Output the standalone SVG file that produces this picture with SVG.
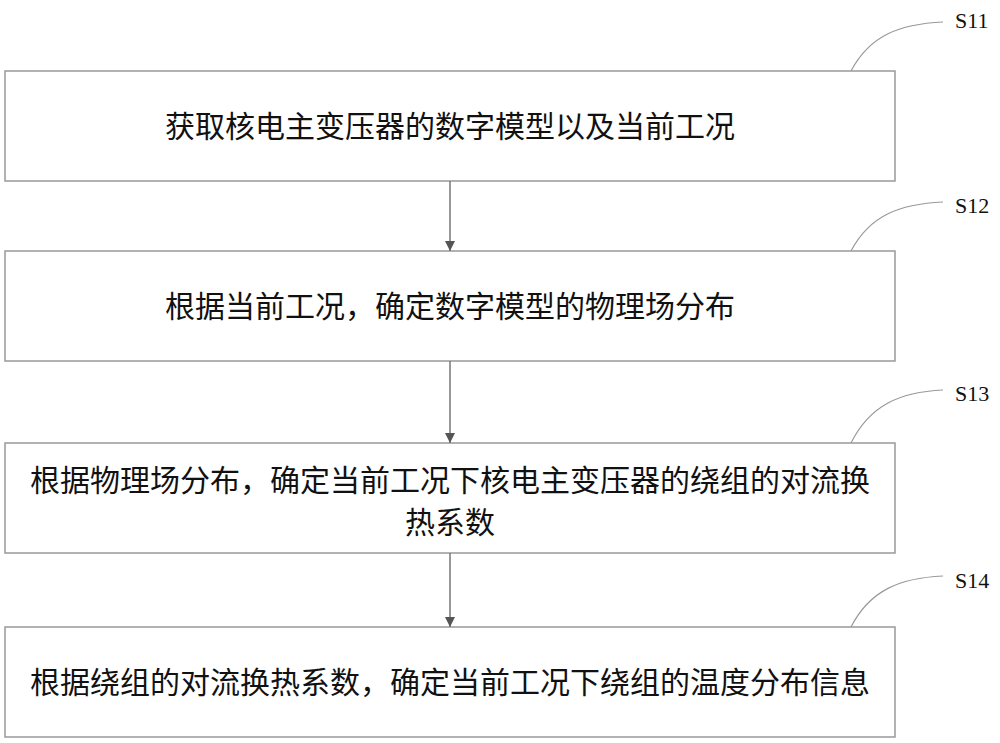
<svg xmlns="http://www.w3.org/2000/svg" width="1000" height="743" viewBox="0 0 1000 743">
<style>
.b{fill:#fff;stroke:#999;stroke-width:1.5}
.t{font-family:"Noto Sans CJK SC",sans-serif;font-size:30px;fill:#111;text-anchor:middle}
.l{font-family:"Liberation Serif",serif;font-size:22px;fill:#111}
.c{fill:none;stroke:#999;stroke-width:1.2}
.a{stroke:#777;stroke-width:1.5;marker-end:url(#m)}
</style>
<defs><marker id="m" viewBox="0 0 10 10" refX="10" refY="5" markerWidth="10" markerHeight="10" markerUnits="userSpaceOnUse" orient="auto"><path d="M0,0L10,5L0,10z" fill="#555"/></marker></defs>
<rect width="1000" height="743" fill="#fff"/>
<g id="n1"><rect class="b" x="5" y="71" width="890" height="110"/><text class="t" x="450" y="137">获取核电主变压器的数字模型以及当前工况</text></g>
<g id="n2"><rect class="b" x="5" y="251" width="890" height="110"/><text class="t" x="450" y="317">根据当前工况，确定数字模型的物理场分布</text></g>
<g id="n3"><rect class="b" x="5" y="443" width="890" height="110"/><text class="t" x="450" y="491">根据物理场分布，确定当前工况下核电主变压器的绕组的对流换</text><text class="t" x="450" y="533">热系数</text></g>
<g id="n4"><rect class="b" x="5" y="627" width="890" height="110"/><text class="t" x="450" y="693">根据绕组的对流换热系数，确定当前工况下绕组的温度分布信息</text></g>
<g id="labels">
<text class="l" x="955" y="28">S11</text><path class="c" d="M851,71 C870,35 900,24 943,22"/>
<text class="l" x="955" y="213">S12</text><path class="c" d="M851,251 C870,215 900,204 943,202"/>
<text class="l" x="955" y="401">S13</text><path class="c" d="M851,443 C870,405 900,392 943,390"/>
<text class="l" x="955" y="588">S14</text><path class="c" d="M851,627 C870,590 900,578 943,576"/>
</g>
<g id="connectors">
<line class="a" x1="450" y1="181" x2="450" y2="251"/>
<line class="a" x1="450" y1="361" x2="450" y2="443"/>
<line class="a" x1="450" y1="553" x2="450" y2="627"/>
</g>
</svg>
